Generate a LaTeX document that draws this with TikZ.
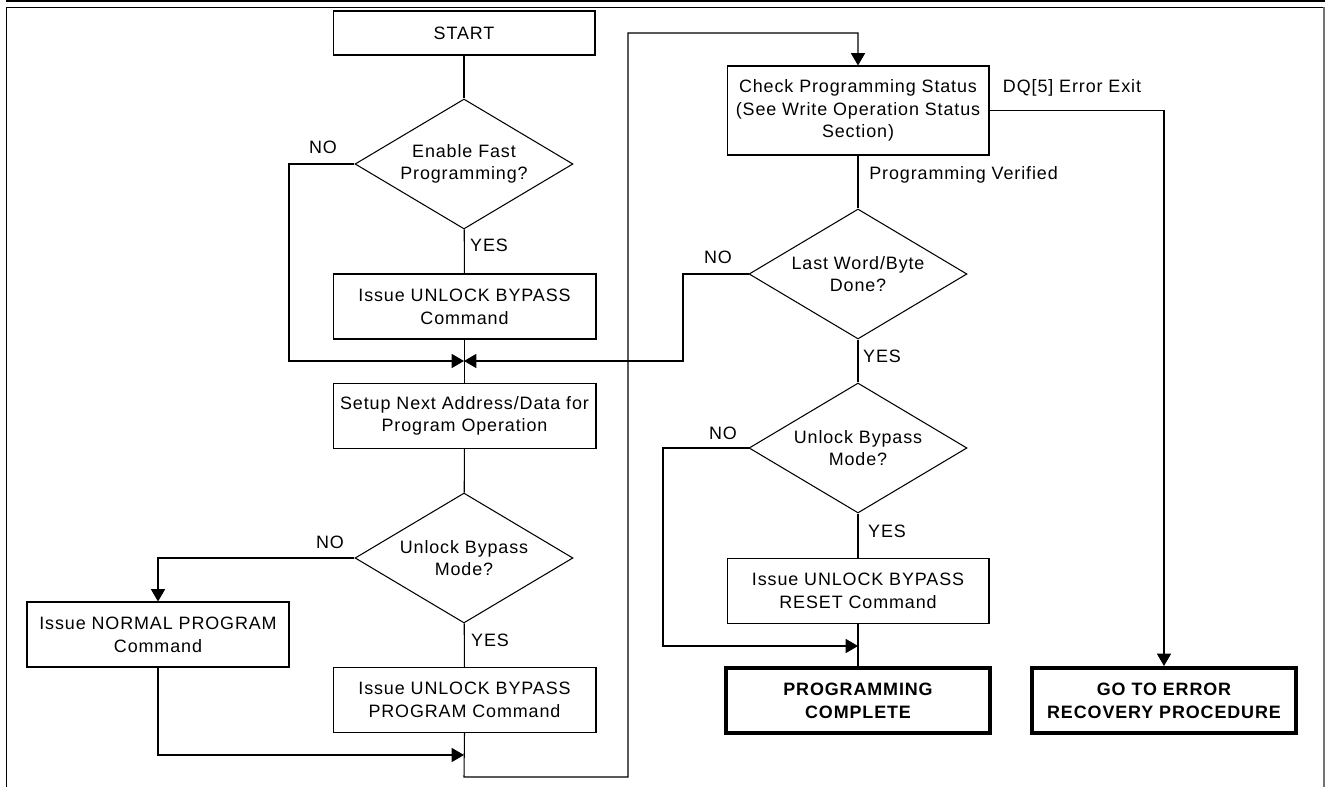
\documentclass[tikz,border=0pt]{standalone}
\usepackage{fontspec}
\setmainfont{Liberation Sans}[LetterSpace=5]
\usetikzlibrary{shapes.geometric,arrows.meta}
\begin{document}
\begin{tikzpicture}[x=0.02cm,y=-0.02cm,
  font=\fontsize{10.2}{12.9}\selectfont,
  every node/.style={inner sep=0pt},
  box/.style={draw, line width=0.6pt, rectangle, align=center, minimum width=5.26cm, minimum height=1.3cm},
  endbox/.style={draw, line width=2.3pt, rectangle, align=center, minimum width=5.28cm, minimum height=1.3cm, font=\fontsize{10.2}{12.9}\selectfont\bfseries},
  dec/.style={draw, line width=0.6pt, diamond, aspect=1.68, align=center, minimum width=4.36cm, minimum height=2.6cm},
  lbl/.style={font=\fontsize{10.2}{12.9}\selectfont},
  conn/.style={draw, line width=0.6pt},
  arr/.style={conn, -{Triangle[length=7pt,width=8pt]}}
]
\useasboundingbox (0,0) rectangle (1325,787);
% frame
\draw[line width=1.7pt] (6,1) -- (1325,1);
\draw[line width=0.8pt] (6.5,787) -- (6.5,7.5) -- (1325,7.5);
\draw[line width=0.8pt, black!55] (1324,7.5) -- (1324,787);

% main column
\node[box, minimum width=5.24cm, minimum height=0.88cm] (start) at (464,33) {START};
\node[dec] (d1) at (464,164) {Enable Fast\\Programming?};
\node[box] (ub1) at (464.5,306.5) {Issue UNLOCK BYPASS\\Command};
\node[box] (setup) at (464.5,416) {Setup Next Address/Data for\\Program Operation};
\node[dec] (d2) at (464,558) {Unlock Bypass\\Mode?};
\node[box, minimum width=5.24cm] (normal) at (158,634.5) {Issue NORMAL PROGRAM\\Command};
\node[box] (ubp) at (464.5,700) {Issue UNLOCK BYPASS\\PROGRAM Command};

% right column
\node[box, minimum width=5.24cm, minimum height=1.78cm] (check) at (858,110.5) {Check Programming Status\\(See Write Operation Status\\Section)};
\node[dec] (d3) at (858,274) {Last Word/Byte\\Done?};
\node[dec] (d4) at (858,448) {Unlock Bypass\\Mode?};
\node[box, minimum width=5.24cm] (reset) at (858,591) {Issue UNLOCK BYPASS\\RESET Command};
\node[endbox] (complete) at (858,700.5) {PROGRAMMING\\COMPLETE};
\node[endbox] (error) at (1164,700.5) {GO TO ERROR\\RECOVERY PROCEDURE};

% junction coordinates
\coordinate (j) at (464,361);
\coordinate (jL) at (289,361);
\coordinate (jR) at (683,361);
\coordinate (j2) at (464,755);
\coordinate (b1) at (464,777);
\coordinate (t1) at (628,33);
\coordinate (c4) at (663,646);
\coordinate (j3) at (858,646);

% connectors
\draw[conn] (start) -- (d1);
\draw[conn] (d1) -- (ub1);
\draw[arr] (d1.west) -| (jL) -- (j);
\draw[arr] (d3.west) -| (jR) -- (j);
\draw[conn] (ub1) -- (setup);
\draw[conn] (setup) -- (d2);
\draw[arr] (d2.west) -| (normal.north);
\draw[conn] (d2) -- (ubp);
\draw[arr] (normal.south) |- (j2);
\draw[arr] (ubp.south) -- (b1) -| (t1) -| (check.north);
\draw[conn] (check) -- (d3);
\draw[arr] (check.east) -| (error.north);
\draw[conn] (d3) -- (d4);
\draw[conn] (d4) -- (reset);
\draw[arr] (d4.west) -| (c4) -- (j3);
\draw[conn] (reset) -- (complete);

% labels
\node[lbl] (no1) at (323,147) {NO};
\node[lbl] (yes1) at (489,245) {YES};
\node[lbl] (no2) at (330,542) {NO};
\node[lbl] (yes2) at (490,640) {YES};
\node[lbl] (no3) at (718,257) {NO};
\node[lbl] (yes3) at (882,356) {YES};
\node[lbl] (no4) at (723,433) {NO};
\node[lbl] (yes4) at (887,531) {YES};
\node[lbl, anchor=west] (pv) at (869,175) {Programming Verified};
\node[lbl] (dq) at (1072,88) {DQ[5] Error Exit};
\end{tikzpicture}
\end{document}
